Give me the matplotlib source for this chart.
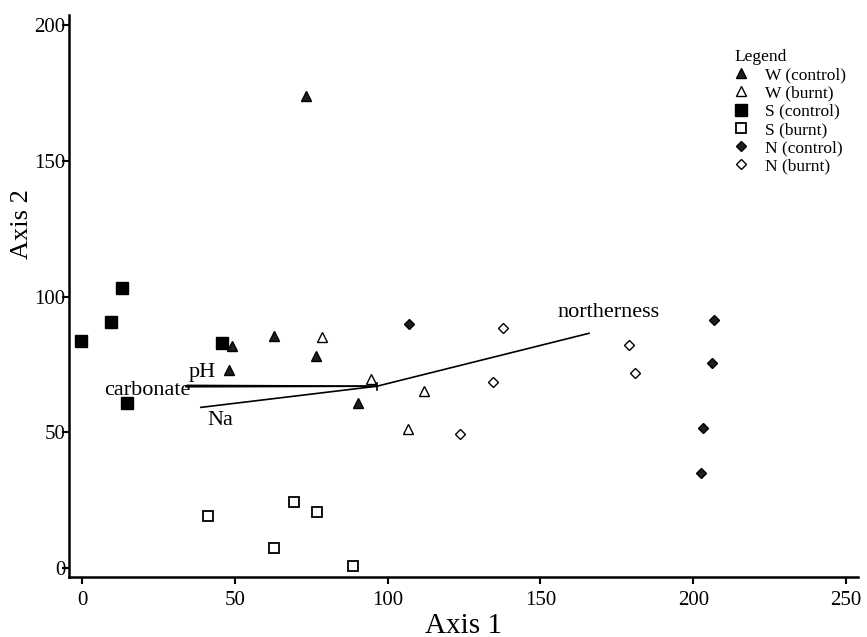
import matplotlib
matplotlib.use('Agg')
import matplotlib.pyplot as plt

# ordination scores
w_control_x = [73.3, 62.8, 49.1, 48.1, 76.6, 90.3]
w_control_y = [173.9, 85.5, 81.8, 73.0, 78.1, 60.8]
w_burnt_x = [78.5, 94.6, 111.9, 106.7]
w_burnt_y = [85.1, 69.6, 65.2, 51.2]
s_control_x = [-0.3, 9.5, 13.1, 45.8, 14.7]
s_control_y = [83.6, 90.6, 103.2, 82.9, 60.8]
s_burnt_x = [41.2, 69.4, 76.9, 62.8, 88.7]
s_burnt_y = [19.2, 24.3, 20.6, 7.4, 0.7]
n_control_x = [107.0, 206.8, 206.2, 203.2, 202.6]
n_control_y = [89.9, 91.4, 75.5, 51.6, 35.0]
n_burnt_x = [137.8, 179.0, 181.0, 134.5, 123.7]
n_burnt_y = [88.4, 82.2, 71.8, 68.5, 49.4]

# biplot vectors (centroid + end points)
vec_origin = (96.5, 67.0)
vec_names = ['carbonate', 'pH', 'Na', 'northerness']
vec_end_x = [34.0, 34.5, 38.9, 165.9]
vec_end_y = [66.8, 67.3, 59.2, 86.5]
vec_label_x = [21.3, 39.2, 45.4, 172.3]
vec_label_y = [65.4, 72.2, 54.3, 94.0]

x_ticks = [0, 50, 100, 150, 200, 250]
y_ticks = [0, 50, 100, 150, 200]

plt.rcParams['font.family'] = ['Liberation Serif', 'DejaVu Serif']

fig = plt.figure(figsize=(8.67, 6.37), dpi=100)
ax = fig.add_axes([0.0796, 0.0942, 0.9100, 0.8823])

dark = '#1e1e1e'
ax.plot(w_control_x, w_control_y, '^', ms=7, mfc=dark, mec='black', mew=1, ls='none', label='W (control)')
ax.plot(w_burnt_x, w_burnt_y, '^', ms=7, mfc='white', mec='black', mew=1, ls='none', label='W (burnt)')
ax.plot(s_control_x, s_control_y, 's', ms=8, mfc='black', mec='black', mew=1, ls='none', label='S (control)')
ax.plot(s_burnt_x, s_burnt_y, 's', ms=7.5, mfc='white', mec='black', mew=1.3, ls='none', label='S (burnt)')
ax.plot(n_control_x, n_control_y, 'D', ms=5, mfc=dark, mec='black', mew=1, ls='none', label='N (control)')
ax.plot(n_burnt_x, n_burnt_y, 'D', ms=5, mfc='white', mec='black', mew=1, ls='none', label='N (burnt)')

for name, ex, ey, lx, ly in zip(vec_names, vec_end_x, vec_end_y, vec_label_x, vec_label_y):
    ax.plot([vec_origin[0], ex], [vec_origin[1], ey], color='black', lw=1.2)
    ax.text(lx, ly, name, fontsize=16, ha='center', va='center')
ax.plot([vec_origin[0], vec_origin[0]], [vec_origin[1] - 1.5, vec_origin[1] + 1.3], color='black', lw=1.2)

ax.set_xlim(-4.25, 253.9)
ax.set_ylim(-3.3, 203.8)
ax.set_xticks(x_ticks)
ax.set_yticks(y_ticks)
ax.tick_params(axis='both', labelsize=15, width=1.5, length=5, direction='out')
ax.tick_params(axis='y', pad=-2.5)
ax.tick_params(axis='x', pad=5)
for side in ['top', 'right']:
    ax.spines[side].set_visible(False)
for side in ['left', 'bottom']:
    ax.spines[side].set_linewidth(1.8)

ax.set_xlabel('Axis 1', fontsize=21, labelpad=2)
ax.set_ylabel('Axis 2', fontsize=19)
ax.yaxis.set_label_coords(-0.046, 0.628)

leg = ax.legend(loc='upper left', bbox_to_anchor=(0.8428, 0.9395), frameon=False,
                title='Legend', title_fontsize=12.5, alignment='left',
                fontsize=12.5, handletextpad=0.98, labelspacing=0.12, borderpad=0,
                handlelength=0.81, borderaxespad=0)

fig.savefig('out.png', dpi=100)
